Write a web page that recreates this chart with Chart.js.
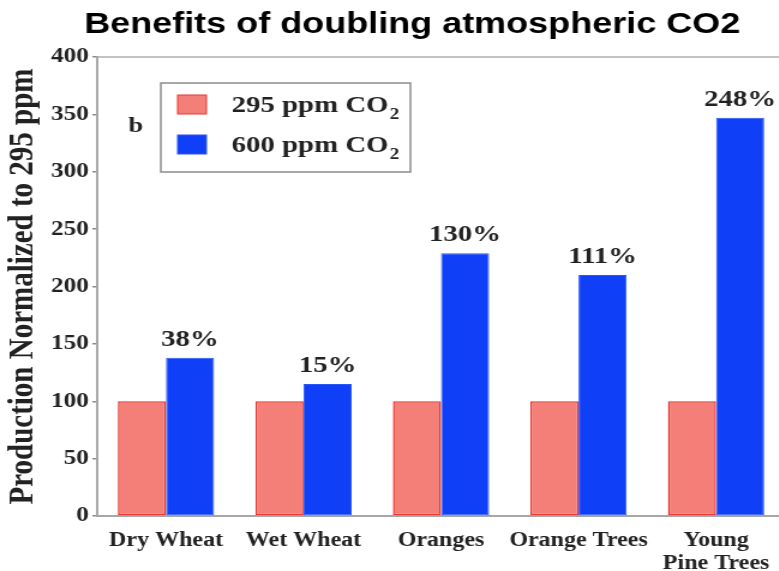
<!DOCTYPE html>
<html>
<head>
<meta charset="utf-8">
<script src="https://cdn.jsdelivr.net/npm/chart.js@4"></script>
<style>
  html, body { margin: 0; padding: 0; background: #fff; overflow: hidden; }
  /* the reference picture is stretched sideways, so the whole chart is too */
  #wrap { width: 687px; height: 571px; transform: scaleX(1.2); transform-origin: 0 0; }
</style>
</head>
<body>
<div id="wrap"><canvas id="barChart"></canvas></div>
<script>
const categorias = ['Dry Wheat', 'Wet Wheat', 'Oranges', 'Orange Trees', ['Young', 'Pine Trees']];
const valores295 = [100, 100, 100, 100, 100];
const valores600 = [138, 115, 229, 210, 347];
const porcentajes = ['38%', '15%', '130%', '111%', '248%'];
const series = ['295 ppm CO₂', '600 ppm CO₂'];

const serif = '"Liberation Serif", "Times New Roman", serif';

// marco del area del grafico
const marcoPlugin = {
  id: 'marco',
  beforeDatasetsDraw(chart) {
    const { ctx, chartArea } = chart;
    ctx.save();
    ctx.strokeStyle = '#b0b0b0';
    ctx.lineWidth = 1.5;
    ctx.strokeRect(chartArea.left, chartArea.top, chartArea.right - chartArea.left, chartArea.bottom - chartArea.top);
    ctx.restore();
  }
};

// porcentajes encima de las barras azules
const porcentajesPlugin = {
  id: 'porcentajes',
  afterDatasetsDraw(chart) {
    const ctx = chart.ctx;
    const meta = chart.getDatasetMeta(1);
    ctx.save();
    ctx.font = 'bold 24px ' + serif;
    ctx.fillStyle = '#222';
    ctx.textAlign = 'center';
    ctx.textBaseline = 'alphabetic';
    meta.data.forEach((bar, i) => {
      ctx.fillText(porcentajes[i], bar.x, bar.y - 12);
    });
    ctx.restore();
  }
};

// leyenda en caja, con el 2 de CO2 como subindice
const leyendaPlugin = {
  id: 'leyenda',
  afterDraw(chart) {
    const ctx = chart.ctx;
    ctx.save();
    ctx.fillStyle = '#222';
    ctx.font = 'bold 22px ' + serif;
    ctx.textAlign = 'left';
    ctx.fillText('b', 107, 132);

    ctx.strokeStyle = '#8c8c8c';
    ctx.lineWidth = 1.5;
    ctx.strokeRect(134, 83, 208, 89);

    chart.data.datasets.forEach((ds, i) => {
      const y = 95 + i * 40;
      ctx.fillStyle = ds.backgroundColor;
      ctx.fillRect(148, y, 24, 19);
      ctx.strokeStyle = ds.borderColor;
      ctx.lineWidth = 1;
      ctx.strokeRect(148, y, 24, 19);

      const texto = ds.label.replace('₂', '');
      ctx.fillStyle = '#222';
      ctx.font = 'bold 24px ' + serif;
      ctx.fillText(texto, 193, y + 17);
      const w = ctx.measureText(texto).width;
      if (ds.label.endsWith('₂')) {
        ctx.font = 'bold 16px ' + serif;
        ctx.fillText('2', 193 + w + 1, y + 24);
      }
    });
    ctx.restore();
  }
};

const ctx = document.getElementById('barChart').getContext('2d');
new Chart(ctx, {
  type: 'bar',
  data: {
    labels: categorias,
    datasets: [{
      label: series[0],
      data: valores295,
      backgroundColor: '#f47f79',
      borderColor: '#e8382f',
      borderWidth: 1.5,
      borderSkipped: false
    }, {
      label: series[1],
      data: valores600,
      backgroundColor: '#0f40f7',
      borderColor: '#2a55f5',
      borderWidth: 1,
      borderSkipped: false
    }]
  },
  options: {
    responsive: true,
    maintainAspectRatio: false,
    animation: false,
    layout: { padding: 0 },
    categoryPercentage: 0.7,
    barPercentage: 1.0,
    plugins: {
      legend: { display: false },
      tooltip: { enabled: false },
      title: {
        display: true,
        text: 'Benefits of doubling atmospheric CO2',
        color: '#000',
        font: { family: '"Liberation Sans", Arial, sans-serif', size: 30, weight: 'bold' },
        padding: { top: 7, bottom: 14 }
      }
    },
    scales: {
      x: {
        grid: { display: false },
        border: { display: true, color: '#8c8c8c', width: 2 },
        ticks: {
          color: '#222',
          font: { family: serif, size: 20, weight: 'bold', lineHeight: 1.15 },
          padding: 5,
          maxRotation: 0,
          autoSkip: false
        },
        afterFit(scale) { scale.height = 55; }
      },
      y: {
        min: 0,
        max: 400,
        ticks: {
          stepSize: 50,
          color: '#222',
          font: { family: serif, size: 21, weight: 'bold' },
          padding: 3
        },
        grid: { drawOnChartArea: false, tickLength: 4, color: '#8c8c8c', lineWidth: 1.5 },
        border: { display: true, color: '#8c8c8c', width: 2 },
        title: {
          display: true,
          text: 'Production Normalized to 295 ppm',
          color: '#222',
          font: { family: serif, size: 29, weight: 'bold' },
          padding: { top: 2, bottom: 0 }
        },
        afterFit(scale) { scale.width = 81; }
      },
      // eje vacio a la derecha: el area del grafico sigue mas alla del borde visible
      yDerecha: {
        position: 'right',
        grid: { display: false },
        border: { display: false },
        ticks: { display: false },
        afterFit(scale) { scale.width = 33; }
      }
    }
  },
  plugins: [marcoPlugin, porcentajesPlugin, leyendaPlugin]
});
</script>
</body>
</html>
